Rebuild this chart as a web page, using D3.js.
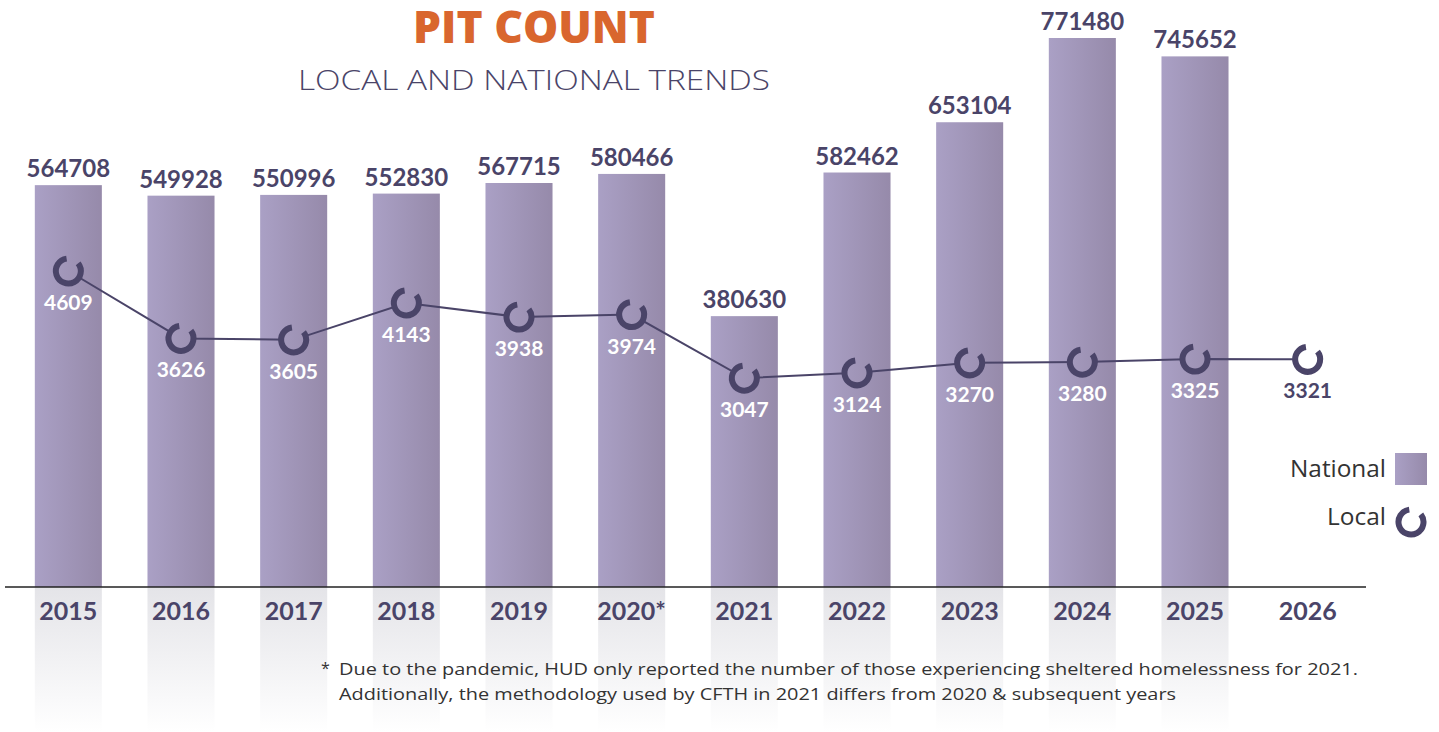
<!DOCTYPE html>
<html><head><meta charset="utf-8">
<script src="https://cdn.jsdelivr.net/npm/d3@7"></script>
<style>
html,body{margin:0;padding:0;background:#fff;}
svg{display:block;}
</style></head>
<body>
<svg id="c" width="1439" height="732"></svg>
<script>
const years = ["2015","2016","2017","2018","2019","2020*","2021","2022","2023","2024","2025","2026"];
const national = [564708,549928,550996,552830,567715,580466,380630,582462,653104,771480,745652,null];
const local = [4609,3626,3605,4143,3938,3974,3047,3124,3270,3280,3325,3321];
const footnote = [
  "Due to the pandemic, HUD only reported the number of those experiencing sheltered homelessness for 2021.",
  "Additionally, the methodology used by CFTH in 2021 differs from 2020 & subsequent years"
];

const svg = d3.select("#c");
const dark = "#4a4468";
const baseY = 587;

const defs = svg.append("defs");
const bg = defs.append("linearGradient").attr("id","barG").attr("x1","0").attr("x2","1").attr("y1","0").attr("y2","0");
bg.append("stop").attr("offset","0%").attr("stop-color","#aaa0c5");
bg.append("stop").attr("offset","100%").attr("stop-color","#968aaa");
const rg = defs.append("linearGradient").attr("id","refG").attr("x1","0").attr("x2","0").attr("y1","0").attr("y2","1");
rg.append("stop").attr("offset","0%").attr("stop-color","#e4e4e8");
rg.append("stop").attr("offset","100%").attr("stop-color","#ffffff");

const x = d3.scaleBand().domain(years).range([12,1364]).paddingInner(0.405).paddingOuter(0.2025);
const y = d3.scaleLinear().domain([0,771480]).range([baseY,38]);
const yl = d3.scaleLinear().domain([0,4609]).range([baseY,271]);

const idx = d3.range(years.length);
const withBar = idx.filter(i => national[i] != null);
const cx = i => x(years[i]) + x.bandwidth()/2;
const R = 12.5;

// mask so the connecting line stops at ring edges
const mask = defs.append("mask").attr("id","lineMask").attr("maskUnits","userSpaceOnUse")
  .attr("x",0).attr("y",0).attr("width",1439).attr("height",732);
mask.append("rect").attr("width",1439).attr("height",732).attr("fill","#fff");
mask.selectAll("circle").data(idx).join("circle")
  .attr("cx",cx).attr("cy",i=>yl(local[i])).attr("r",R).attr("fill","#000");

// reflections
svg.append("g").selectAll("rect").data(withBar).join("rect")
  .attr("x", i => x(years[i])).attr("y", baseY)
  .attr("width", x.bandwidth()).attr("height", 732-baseY)
  .attr("fill","url(#refG)");

// bars
svg.append("g").selectAll("rect").data(withBar).join("rect")
  .attr("x", i => x(years[i])).attr("y", i => y(national[i]))
  .attr("width", x.bandwidth()).attr("height", i => baseY - y(national[i]))
  .attr("fill","url(#barG)");

// national labels
svg.append("g").selectAll("text").data(withBar).join("text")
  .attr("x", i => x(years[i]) + x.bandwidth()/2)
  .attr("y", i => y(national[i]) - 8)
  .attr("text-anchor","middle")
  .attr("font-family","Lato").attr("font-weight","700").attr("font-size","24px")
  .attr("fill",dark)
  .text(i => national[i]);

// axis line
svg.append("line").attr("x1",5).attr("x2",1366).attr("y1",baseY).attr("y2",baseY)
  .attr("stroke","#222").attr("stroke-width",1.5);

// x axis labels
const xa = d3.axisBottom(x).tickSize(0).tickPadding(0);
const gx = svg.append("g").attr("transform",`translate(0,${baseY})`).call(xa);
gx.select(".domain").remove();
gx.selectAll("text").attr("dy",null).attr("y",33)
  .attr("font-family","Lato").attr("font-weight","700").attr("font-size","25px")
  .attr("fill",dark);

// local line
svg.append("path").datum(idx)
  .attr("d", d3.line().x(cx).y(i => yl(local[i])))
  .attr("mask","url(#lineMask)")
  .attr("fill","none").attr("stroke",dark).attr("stroke-width",2);

// ring markers
const ringArc = d3.arc().innerRadius(R).outerRadius(R)
  .startAngle(52*Math.PI/180).endAngle((360-8)*Math.PI/180);
function ring(sel){
  sel.append("path").attr("d", ringArc()).attr("fill","none")
    .attr("stroke",dark).attr("stroke-width",6).attr("stroke-linecap","round");
}
svg.append("g").selectAll("g").data(idx).join("g")
  .attr("transform", i => `translate(${cx(i)},${yl(local[i])})`)
  .call(ring);

// local labels
svg.append("g").selectAll("text").data(idx).join("text")
  .attr("x", cx).attr("y", i => yl(local[i]) + 39)
  .attr("text-anchor","middle")
  .attr("font-family","Lato").attr("font-weight","700").attr("font-size","21px")
  .attr("fill", i => national[i] != null ? "#ffffff" : dark)
  .text(i => local[i]);

// title
svg.append("text").attr("x",534).attr("y",43).attr("text-anchor","middle")
  .attr("font-family","Open Sans").attr("font-weight","800").attr("font-size","44px")
  .attr("fill","#d9662e").attr("textLength",242).attr("lengthAdjust","spacingAndGlyphs").text("PIT COUNT");
svg.append("text").attr("x",534).attr("y",90).attr("text-anchor","middle")
  .attr("font-family","Open Sans").attr("font-weight","300").attr("font-size","28px")
  .attr("fill",dark).attr("textLength",472).attr("lengthAdjust","spacingAndGlyphs").text("LOCAL AND NATIONAL TRENDS");

// legend
svg.append("text").attr("x",1386).attr("y",477).attr("text-anchor","end")
  .attr("font-family","Open Sans").attr("font-size","23px").attr("fill","#333")
  .attr("textLength",96).attr("lengthAdjust","spacingAndGlyphs").text("National");
svg.append("rect").attr("x",1395).attr("y",453).attr("width",32).attr("height",32).attr("fill","url(#barG)");
svg.append("text").attr("x",1386).attr("y",525).attr("text-anchor","end")
  .attr("font-family","Open Sans").attr("font-size","23px").attr("fill","#333")
  .attr("textLength",59).attr("lengthAdjust","spacingAndGlyphs").text("Local");
svg.append("g").attr("transform","translate(1411,522)").call(ring);

// footnote
svg.append("text").attr("x",321).attr("y",674).attr("font-family","Open Sans").attr("font-size","16px")
  .attr("fill","#333").text("*");
svg.selectAll("text.fn").data(footnote).join("text").attr("class","fn")
  .attr("x",339).attr("y",(d,i)=>675+i*25)
  .attr("font-family","Open Sans").attr("font-size","17px").attr("fill","#333")
  .attr("textLength",(d,i)=> i===0 ? 1019 : 837).attr("lengthAdjust","spacingAndGlyphs")
  .text(d=>d);
</script>
</body></html>
